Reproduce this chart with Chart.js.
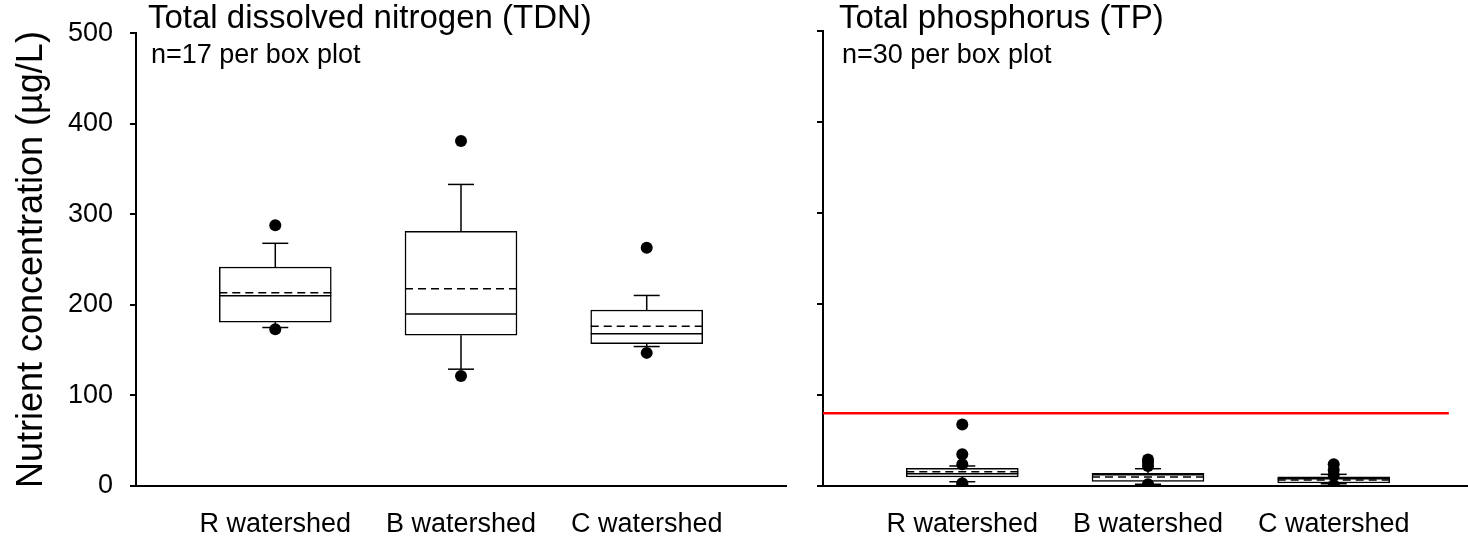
<!DOCTYPE html>
<html>
<head>
<meta charset="utf-8">
<script src="https://cdn.jsdelivr.net/npm/chart.js@4.4.1/dist/chart.umd.min.js"></script>
<style>
html,body{margin:0;padding:0;background:#fff;overflow:hidden;width:1468px;height:537px;}
canvas{position:absolute;top:0;}
#tdn{left:0;}
#tp{left:700px;}
</style>
</head>
<body>
<canvas id="tdn" width="800" height="537"></canvas>
<canvas id="tp" width="780" height="537"></canvas>
<script>
const groups = ["R watershed", "B watershed", "C watershed"];
const yTicks = [0, 100, 200, 300, 400, 500];

// total dissolved nitrogen, n=17 per box
const tdnQ1 = [181, 166.5, 157.3];
const tdnQ3 = [241.8, 281.3, 194.3];
const tdnMedian = [210, 190, 168];
const tdnMean = [213.3, 217.7, 176.4];
const tdnWhiskLo = [175, 129, 154];
const tdnWhiskHi = [268, 333, 210.4];
const tdnOutliers = [[288, 173], [381, 121.5], [263, 147]];

// total phosphorus, n=30 per box
const tpQ1 = [9.9, 5.1, 3.3];
const tpQ3 = [19.4, 13.9, 10.2];
const tpMedian = [13.5, 12.5, 8];
const tpMean = [15.7, 9.9, 6.6];
const tpWhiskLo = [4.7, 1.9, 2.5];
const tpWhiskHi = [22, 19, 12.8];
const tpOutliers = [[67.7, 34.8, 23.8, 3, 1], [29, 26, 22, 2, 0.5, 0], [23.8, 17.6, 12, 0.5, 0]];
const tpLimit = 80;
const tpLimitSpan = [0.25, 3.62];

const FONT = "'Liberation Sans', Arial, sans-serif";

// whiskers, medians and dashed means on top of the boxes
const boxLines = {
  id: "boxLines",
  afterDatasetDraw(chart, args, o){
    if(args.index!==1) return;
    const ctx=chart.ctx, x=chart.scales.x, y=chart.scales.y;
    const half=o.boxWidth/2, cap=o.capWidth/2;
    ctx.save();
    ctx.strokeStyle="#000"; ctx.lineWidth=1.5;
    o.q1.forEach((q,i)=>{
      let cx=x.getPixelForValue(i+1);
      let seg=(x1,y1,x2,y2)=>{ctx.beginPath();ctx.moveTo(x1,y1);ctx.lineTo(x2,y2);ctx.stroke();};
      let yHi=y.getPixelForValue(o.hi[i]), yLo=y.getPixelForValue(o.lo[i]);
      seg(cx,y.getPixelForValue(o.q3[i]),cx,yHi); seg(cx-cap,yHi,cx+cap,yHi);
      seg(cx,y.getPixelForValue(q),cx,yLo); seg(cx-cap,yLo,cx+cap,yLo);
      seg(cx-half,y.getPixelForValue(o.med[i]),cx+half,y.getPixelForValue(o.med[i]));
      ctx.setLineDash([8,5]);
      seg(cx-half,y.getPixelForValue(o.mean[i]),cx+half,y.getPixelForValue(o.mean[i]));
      ctx.setLineDash([]);
    });
    ctx.restore();
  }
};

// panel heading and sample size
const panelText = {
  id: "panelText",
  afterDraw(chart, args, o){
    const ctx=chart.ctx, a=chart.chartArea;
    ctx.save();
    ctx.fillStyle="#000"; ctx.textBaseline="alphabetic"; ctx.textAlign="left";
    ctx.font="33px "+FONT; ctx.fillText(o.title,a.left+o.dx,28);
    ctx.font="27px "+FONT; ctx.fillText(o.note,a.left+o.dx+3,63);
    ctx.restore();
  }
};

function makePanel(id, p){
  let datasets=[
    {type:"scatter", order:0, data:p.outliers.flatMap((vals,i)=>vals.map(v=>({x:i+1,y:v}))),
     pointRadius:6, pointHoverRadius:6, backgroundColor:"#000", borderColor:"#000", borderWidth:0},
    {type:"bar", order:2, data:groups.map((g,i)=>({x:i+1,y:[p.q1[i],p.q3[i]]})),
     backgroundColor:"#fff", borderColor:"#000", borderWidth:1.5, borderSkipped:false, barThickness:112}
  ];
  if(p.limit!==undefined){
    datasets.push({type:"line", order:1, data:p.limitSpan.map(v=>({x:v,y:p.limit})),
      borderColor:"#ff0000", borderWidth:2.5, pointRadius:0, tension:0});
  }
  return new Chart(document.getElementById(id),{
    data:{datasets},
    options:{
      responsive:false, animation:false, events:[],
      layout:{padding:{top:31, right:p.padRight, left:0, bottom:0}},
      plugins:{legend:{display:false}, tooltip:{enabled:false},
        boxLines:{q1:p.q1,q3:p.q3,med:p.med,mean:p.mean,lo:p.lo,hi:p.hi,boxWidth:112,capWidth:26},
        panelText:{title:p.title,note:p.note,dx:p.dx}},
      scales:{
        x:{type:"linear", min:0.25, max:3.75, offset:false,
          afterBuildTicks:s=>{s.ticks=groups.map((g,i)=>({value:i+1}));},
          afterFit:s=>{s.height=51;},
          grid:{display:false, offset:false},
          border:{display:true, color:"#000", width:2},
          ticks:{callback:v=>groups[v-1], color:"#000", font:{family:FONT,size:27}, padding:14, maxRotation:0, autoSkip:false}},
        y:{type:"linear", min:0, max:500,
          afterBuildTicks:s=>{s.ticks=yTicks.map(v=>({value:v}));},
          afterFit:s=>{s.width=p.axisWidth;},
          grid:{display:true, drawOnChartArea:false, drawTicks:true, tickLength:6, color:"#000", lineWidth:2},
          border:{display:true, color:"#000", width:2},
          ticks:{display:p.showTicks, color:"#000", font:{family:FONT,size:27}, padding:17},
          title:{display:p.showTicks, text:"Nutrient concentration (µg/L)", color:"#000",
            font:{family:FONT,size:36}, padding:{top:10,bottom:0}}}
      }
    },
    plugins:[boxLines,panelText]
  });
}

makePanel("tdn",{q1:tdnQ1,q3:tdnQ3,med:tdnMedian,mean:tdnMean,lo:tdnWhiskLo,hi:tdnWhiskHi,outliers:tdnOutliers,
  title:"Total dissolved nitrogen (TDN)", note:"n=17 per box plot", dx:12, axisWidth:136, padRight:14, showTicks:true});
makePanel("tp",{q1:tpQ1,q3:tpQ3,med:tpMedian,mean:tpMean,lo:tpWhiskLo,hi:tpWhiskHi,outliers:tpOutliers,
  limit:tpLimit, limitSpan:tpLimitSpan,
  title:"Total phosphorus (TP)", note:"n=30 per box plot", dx:16, axisWidth:123, padRight:7, showTicks:false});
</script>
</body>
</html>
